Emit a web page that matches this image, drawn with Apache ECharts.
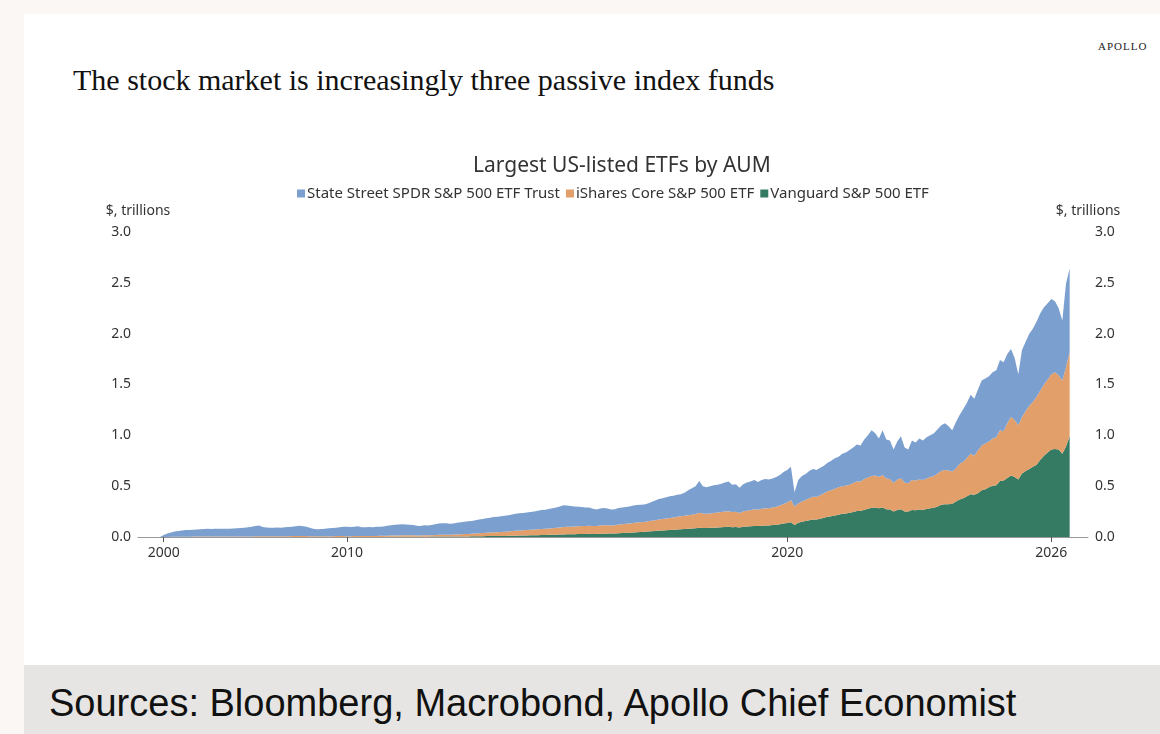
<!DOCTYPE html>
<html>
<head>
<meta charset="utf-8">
<script src="https://cdn.jsdelivr.net/npm/echarts@6/dist/echarts.min.js"></script>
<style>
  html, body { margin: 0; padding: 0; background: #fbf7f4; }
  #card { position: absolute; left: 24px; top: 14px; width: 1136px; height: 651px; background: #fff; }
  #band { position: absolute; left: 24px; top: 665px; width: 1136px; height: 69px; background: #e6e5e3; }
  #headline { position: absolute; left: 73px; top: 63px; font: 30px 'Liberation Serif', serif; line-height: 34px; color: #111; white-space: nowrap; }
  #brand { position: absolute; left: 1098px; top: 40px; font: 11px 'Liberation Serif', serif; letter-spacing: 1px; color: #222; }
  #sources { position: absolute; left: 49px; top: 682px; font: 38px 'Liberation Sans', sans-serif; line-height: 42px; color: #111; white-space: nowrap; }
  #chart { position: absolute; left: 0; top: 0; width: 1160px; height: 734px; }
</style>
</head>
<body>
<div id="card"></div>
<div id="band"></div>
<div id="headline">The stock market is increasingly three passive index funds</div>
<div id="brand">APOLLO</div>
<div id="sources">Sources: Bloomberg, Macrobond, Apollo Chief Economist</div>
<div id="chart"></div>
<script>
// x axis: 5 points a year before 2010, monthly from 2010
var padStart = ['1998-08', '1998-10', '1999-01', '1999-03', '1999-06', '1999-08', '1999-10'];
var earlyMonths = ['01', '03', '06', '08', '10'];
var padEnd = ['2026-07', '2026-08', '2026-09', '2026-10', '2026-11'];
var shownTicks = ['2000-01', '2010-01', '2020-01', '2026-01'];

var categories = padStart.slice();
for (var y = 2000; y < 2010; y++) {
    for (var k = 0; k < earlyMonths.length; k++) categories.push(y + '-' + earlyMonths[k]);
}
for (var y2 = 2010; y2 <= 2026; y2++) {
    for (var mo = 1; mo <= 12; mo++) {
        if (y2 === 2026 && mo > 6) break;
        categories.push(y2 + '-' + (mo < 10 ? '0' + mo : mo));
    }
}
categories = categories.concat(padEnd);

var lead = [null, null, null, null, null, null, 0];
var tail = [null, null, null, null, null];

// $ trillions, 2000-2009 (5 per year)
var spdrEarly = [
    0.02, 0.034, 0.043, 0.053, 0.057,
    0.062, 0.065, 0.067, 0.068, 0.07,
    0.072, 0.074, 0.076, 0.074, 0.076,
    0.076, 0.077, 0.075, 0.077, 0.079,
    0.08, 0.082, 0.084, 0.089, 0.094,
    0.101, 0.105, 0.091, 0.087, 0.083,
    0.085, 0.086, 0.084, 0.087, 0.09,
    0.091, 0.096, 0.101, 0.097, 0.091,
    0.08, 0.071, 0.069, 0.071, 0.074,
    0.077, 0.08, 0.083, 0.087, 0.09
];
var isharesEarly = [
    0, 0.001, 0.002, 0.002, 0.003,
    0.003, 0.003, 0.003, 0.004, 0.004,
    0.004, 0.004, 0.004, 0.004, 0.004,
    0.004, 0.005, 0.005, 0.005, 0.005,
    0.005, 0.006, 0.006, 0.006, 0.006,
    0.007, 0.007, 0.007, 0.007, 0.007,
    0.007, 0.008, 0.008, 0.008, 0.008,
    0.009, 0.009, 0.009, 0.009, 0.009,
    0.008, 0.007, 0.007, 0.007, 0.008,
    0.008, 0.008, 0.009, 0.009, 0.01
];
var vanguardEarly = [
    0, 0, 0, 0, 0,
    0, 0, 0, 0, 0,
    0, 0, 0, 0, 0,
    0, 0, 0, 0, 0,
    0, 0, 0, 0, 0,
    0, 0, 0, 0, 0,
    0, 0, 0, 0, 0,
    0, 0, 0, 0, 0,
    0, 0, 0, 0, 0,
    0, 0, 0, 0, 0
];

// $ trillions, monthly 2010-01 .. 2026-06
var spdr = [
    0.092, 0.09, 0.093, 0.096, 0.088, 0.086, 0.088, 0.086, 0.089, 0.09, 0.092, 0.097,
    0.101, 0.105, 0.107, 0.109, 0.108, 0.104, 0.102, 0.095, 0.093, 0.099, 0.097, 0.1,
    0.106, 0.111, 0.114, 0.113, 0.107, 0.11, 0.115, 0.118, 0.121, 0.125, 0.126, 0.131,
    0.135, 0.139, 0.143, 0.146, 0.15, 0.151, 0.155, 0.156, 0.16, 0.164, 0.167, 0.17,
    0.17, 0.172, 0.175, 0.177, 0.182, 0.186, 0.187, 0.191, 0.195, 0.2, 0.206, 0.214,
    0.21, 0.203, 0.196, 0.192, 0.187, 0.181, 0.18, 0.17, 0.163, 0.168, 0.17, 0.164,
    0.156, 0.156, 0.163, 0.164, 0.165, 0.167, 0.172, 0.173, 0.173, 0.172, 0.175, 0.185,
    0.195, 0.203, 0.203, 0.208, 0.212, 0.212, 0.217, 0.217, 0.227, 0.246, 0.26, 0.274,
    0.312, 0.27, 0.262, 0.268, 0.274, 0.275, 0.279, 0.285, 0.291, 0.27, 0.272, 0.25,
    0.27, 0.277, 0.281, 0.288, 0.272, 0.282, 0.286, 0.281, 0.285, 0.292, 0.3, 0.315,
    0.32, 0.326, 0.14, 0.23, 0.25, 0.255, 0.27, 0.275, 0.265, 0.27, 0.27, 0.28,
    0.29, 0.3, 0.3, 0.32, 0.325, 0.341, 0.35, 0.365, 0.355, 0.39, 0.415, 0.45,
    0.415, 0.38, 0.44, 0.385, 0.38, 0.33, 0.375, 0.413, 0.345, 0.332, 0.39, 0.375,
    0.405, 0.39, 0.405, 0.41, 0.42, 0.435, 0.45, 0.46, 0.435, 0.405, 0.455, 0.48,
    0.52, 0.54, 0.58, 0.56, 0.6, 0.64, 0.64, 0.64, 0.65, 0.66, 0.69, 0.68,
    0.68, 0.67, 0.61, 0.5, 0.66, 0.68, 0.71, 0.72, 0.74, 0.76, 0.76, 0.75,
    0.74, 0.7, 0.66, 0.59, 0.82, 0.82
];
var ishares = [
    0.008, 0.008, 0.009, 0.009, 0.009, 0.009, 0.01, 0.01, 0.01, 0.011, 0.011, 0.011,
    0.012, 0.013, 0.013, 0.013, 0.013, 0.013, 0.013, 0.012, 0.012, 0.013, 0.014, 0.014,
    0.015, 0.017, 0.018, 0.018, 0.018, 0.019, 0.02, 0.021, 0.023, 0.024, 0.025, 0.027,
    0.029, 0.031, 0.033, 0.035, 0.036, 0.037, 0.039, 0.041, 0.043, 0.045, 0.048, 0.05,
    0.051, 0.053, 0.055, 0.056, 0.058, 0.06, 0.061, 0.063, 0.065, 0.067, 0.07, 0.073,
    0.074, 0.075, 0.076, 0.077, 0.078, 0.079, 0.079, 0.078, 0.077, 0.08, 0.082, 0.082,
    0.08, 0.081, 0.085, 0.087, 0.089, 0.09, 0.093, 0.095, 0.096, 0.097, 0.101, 0.103,
    0.105, 0.109, 0.112, 0.115, 0.118, 0.121, 0.124, 0.127, 0.13, 0.133, 0.137, 0.141,
    0.148, 0.142, 0.14, 0.142, 0.144, 0.146, 0.15, 0.152, 0.154, 0.148, 0.15, 0.141,
    0.15, 0.155, 0.158, 0.163, 0.161, 0.167, 0.17, 0.17, 0.173, 0.178, 0.185, 0.193,
    0.203, 0.219, 0.182, 0.19, 0.2, 0.207, 0.215, 0.223, 0.223, 0.23, 0.24, 0.25,
    0.255, 0.263, 0.27, 0.272, 0.273, 0.277, 0.284, 0.29, 0.29, 0.302, 0.307, 0.312,
    0.315, 0.308, 0.32, 0.303, 0.3, 0.28, 0.3, 0.305, 0.283, 0.276, 0.295, 0.293,
    0.295, 0.292, 0.3, 0.308, 0.312, 0.325, 0.332, 0.338, 0.333, 0.319, 0.325, 0.35,
    0.36, 0.38, 0.4, 0.385, 0.42, 0.44, 0.45, 0.45, 0.465, 0.47, 0.5, 0.485,
    0.54, 0.575, 0.56, 0.535, 0.555, 0.59, 0.62, 0.64, 0.67, 0.68, 0.7, 0.72,
    0.74, 0.755, 0.73, 0.72, 0.78, 0.83
];
var vanguard = [
    0, 0, 0, 0, 0, 0, 0, 0, 0.001, 0.001, 0.001, 0.002,
    0.002, 0.002, 0.002, 0.003, 0.003, 0.003, 0.003, 0.003, 0.003, 0.003, 0.003, 0.004,
    0.004, 0.004, 0.004, 0.005, 0.005, 0.005, 0.005, 0.006, 0.006, 0.006, 0.007, 0.007,
    0.008, 0.008, 0.009, 0.009, 0.01, 0.01, 0.011, 0.011, 0.012, 0.013, 0.013, 0.014,
    0.015, 0.015, 0.016, 0.017, 0.018, 0.019, 0.02, 0.021, 0.022, 0.023, 0.024, 0.025,
    0.026, 0.027, 0.028, 0.029, 0.03, 0.03, 0.031, 0.03, 0.03, 0.032, 0.033, 0.034,
    0.034, 0.035, 0.037, 0.039, 0.041, 0.043, 0.045, 0.047, 0.049, 0.051, 0.054, 0.057,
    0.06, 0.063, 0.065, 0.067, 0.07, 0.072, 0.074, 0.076, 0.078, 0.081, 0.083, 0.085,
    0.09, 0.088, 0.088, 0.09, 0.092, 0.094, 0.096, 0.098, 0.1, 0.097, 0.098, 0.094,
    0.1, 0.103, 0.106, 0.109, 0.107, 0.111, 0.114, 0.114, 0.117, 0.12, 0.125, 0.132,
    0.137, 0.145, 0.118, 0.14, 0.15, 0.158, 0.165, 0.172, 0.172, 0.18, 0.19, 0.2,
    0.205, 0.212, 0.22, 0.228, 0.232, 0.238, 0.246, 0.255, 0.255, 0.268, 0.278, 0.288,
    0.29, 0.282, 0.29, 0.272, 0.27, 0.25, 0.265, 0.272, 0.252, 0.252, 0.265, 0.262,
    0.27, 0.268, 0.275, 0.282, 0.288, 0.3, 0.318, 0.322, 0.322, 0.326, 0.35, 0.37,
    0.38, 0.4, 0.42, 0.415, 0.43, 0.46, 0.47, 0.49, 0.505, 0.51, 0.55, 0.555,
    0.58, 0.605, 0.59, 0.565, 0.625, 0.65, 0.67, 0.69, 0.71, 0.76, 0.8, 0.83,
    0.86, 0.865, 0.86, 0.82, 0.89, 0.99
];

var names = ['State Street SPDR S&P 500 ETF Trust', 'iShares Core S&P 500 ETF', 'Vanguard S&P 500 ETF'];
var colors = ['#7b9fcf', '#e39f6a', '#357a62'];

function makeSeries(name, data, color) {
    return {
        name: name,
        type: 'line',
        stack: 'aum',
        data: data,
        symbol: 'none',
        showSymbol: false,
        lineStyle: { width: 0, opacity: 0 },
        itemStyle: { color: color },
        areaStyle: { color: color, opacity: 1 }
    };
}

function isShown(index, value) {
    return shownTicks.indexOf(value) !== -1;
}

var chart = echarts.init(document.getElementById('chart'));
var axisText = { color: '#333', fontSize: 14, fontFamily: 'Noto Sans' };

chart.setOption({
    animation: false,
    textStyle: { fontFamily: 'Noto Sans' },
    title: {
        text: 'Largest US-listed ETFs by AUM',
        left: 473,
        top: 156,
        padding: 0,
        textStyle: { fontSize: 21, fontWeight: 'normal', color: '#333', fontFamily: 'Noto Sans' }
    },
    legend: {
        data: names,
        left: 297,
        top: 186,
        padding: 0,
        icon: 'rect',
        itemWidth: 8,
        itemHeight: 8,
        itemGap: 6,
        textStyle: { fontSize: 15, color: '#333', padding: [0, 0, 0, -3] }
    },
    grid: { left: 138, right: 72, top: 232, bottom: 197, containLabel: false },
    xAxis: {
        type: 'category',
        data: categories,
        boundaryGap: false,
        axisLine: { lineStyle: { color: '#999', width: 1 } },
        axisTick: { show: true, interval: isShown, length: 5, lineStyle: { color: '#555' } },
        axisLabel: {
            interval: isShown,
            margin: 9,
            color: axisText.color,
            fontSize: axisText.fontSize,
            formatter: function (v) { return v.slice(0, 4); }
        },
        splitLine: { show: false }
    },
    yAxis: [0, 1].map(function (i) {
        return {
            type: 'value',
            position: i === 0 ? 'left' : 'right',
            min: 0,
            max: 3,
            interval: 0.5,
            name: '$, trillions',
            nameLocation: 'end',
            nameGap: 14,
            nameTextStyle: axisText,
            axisLine: { show: false },
            axisTick: { show: false },
            splitLine: { show: false },
            axisLabel: {
                margin: 7,
                color: axisText.color,
                fontSize: axisText.fontSize,
                formatter: function (v) { return v.toFixed(1); }
            }
        };
    }),
    series: [
        makeSeries(names[2], lead.concat(vanguardEarly, vanguard, tail), colors[2]),
        makeSeries(names[1], lead.concat(isharesEarly, ishares, tail), colors[1]),
        makeSeries(names[0], lead.concat(spdrEarly, spdr, tail), colors[0])
    ]
});
</script>
</body>
</html>
